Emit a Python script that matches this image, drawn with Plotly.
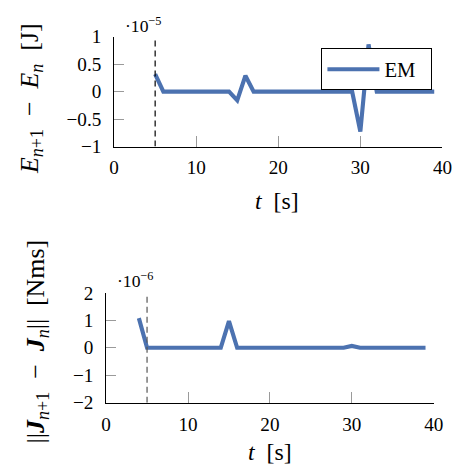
import plotly.graph_objects as go

# Time steps [s]
t_energy = list(range(5, 40))
t_momentum = list(range(4, 40))

# Energy increment E_{n+1} - E_n, in units of 1e-5 J
energy_diff = {5: 0.32, 15: -0.16, 16: 0.29, 30: -0.73, 31: 0.86}
dE = [energy_diff.get(t, 0.0) for t in t_energy]

# Angular momentum increment ||J_{n+1} - J_n||, in units of 1e-6 Nms
momentum_diff = {4: 1.08, 15: 0.97, 30: 0.07}
dJ = [momentum_diff.get(t, 0.0) for t in t_momentum]

t_marker = 5                     # vertical reference time
x_ticks = [0, 10, 20, 30, 40]
y_ticks_top = [-1, -0.5, 0, 0.5, 1]
y_ticks_bottom = [-2, -1, 0, 1, 2]

W, H = 454, 472
# page-to-canvas calibration (scale and offset of the rendered page)
S, OX, OY = 0.966, 5.0, 8.0


def fx(px):
    return (px - OX) / S / W


def fy(py):
    return 1 - (py - OY) / S / H


def fs(size):
    return size / S


blue = "#4C72B0"
serif = "Liberation Serif, DejaVu Serif, serif"

fig = go.Figure()

fig.add_trace(go.Scatter(x=t_energy, y=dE, mode="lines", name="EM\u2002",
                         line=dict(color=blue, width=fs(4)),
                         xaxis="x", yaxis="y"))
fig.add_trace(go.Scatter(x=[t_marker, t_marker], y=[y_ticks_top[0], y_ticks_top[-1]],
                         mode="lines", showlegend=False,
                         line=dict(color="black", width=1.2, dash="6px,4px"),
                         xaxis="x", yaxis="y"))
fig.add_trace(go.Scatter(x=t_momentum, y=dJ, mode="lines", showlegend=False,
                         line=dict(color=blue, width=fs(4)),
                         xaxis="x2", yaxis="y2"))
fig.add_trace(go.Scatter(x=[t_marker, t_marker], y=[y_ticks_bottom[0], y_ticks_bottom[-1]],
                         mode="lines", showlegend=False,
                         line=dict(color="#555555", width=1.2, dash="6px,4px"),
                         xaxis="x2", yaxis="y2"))

tickfont = dict(family=serif, size=fs(18.5), color="black")
axis_common = dict(showline=True, linecolor="black", linewidth=1, mirror=False,
                   showgrid=False, zeroline=False, ticks="inside", ticklen=fs(10),
                   tickcolor="#9a9a9a", tickwidth=1, tickfont=tickfont)

fig.update_layout(
    width=W, height=H,
    margin=dict(l=0, r=0, t=0, b=0),
    paper_bgcolor="white", plot_bgcolor="white",
    xaxis=dict(domain=[fx(114), fx(442)], range=[0, 40], tickvals=x_ticks,
               anchor="y", ticklabelstandoff=4, **axis_common),
    yaxis=dict(domain=[fy(146), fy(35)], range=[-1, 1], tickvals=y_ticks_top,
               anchor="x", ticklabelstandoff=8, **axis_common),
    xaxis2=dict(domain=[fx(106), fx(433.3)], range=[0, 40], tickvals=x_ticks,
                anchor="y2", ticklabelstandoff=4, **axis_common),
    yaxis2=dict(domain=[fy(405), fy(294)], range=[-2, 2], tickvals=y_ticks_bottom,
                anchor="x2", ticklabelstandoff=8, **axis_common),
    legend=dict(x=fx(432), y=fy(46.7), xanchor="right", yanchor="top",
                bgcolor="white", bordercolor="black", borderwidth=1, itemwidth=52,
                font=dict(family=serif, size=fs(20), color="black")),
    showlegend=True,
)

ytitle_font = dict(family=serif, size=fs(25), color="black")
xtitle_font = dict(family=serif, size=fs(23), color="black")
small_font = dict(family=serif, size=fs(17), color="black")
sp = "\u2002"
annotations = [
    dict(text=f"<i>E</i><sub><i>n</i>+1</sub>{sp}−{sp}<i>E</i><sub><i>n</i></sub>{sp}[J]",
         x=fx(31), y=fy(98), textangle=-90, font=ytitle_font),
    dict(text=f"||<b><i>J</i></b><sub><i>n</i>+1</sub>{sp}−{sp}<b><i>J</i></b><sub><i>n</i></sub>||{sp}[Nms]",
         x=fx(37), y=fy(344), textangle=-90, font=ytitle_font),
    dict(text=f"<i>t</i>{sp}[s]", x=fx(277), y=fy(201), font=xtitle_font),
    dict(text=f"<i>t</i>{sp}[s]", x=fx(269.5), y=fy(455), font=xtitle_font),
    dict(text="·10<sup>−5</sup>", x=fx(123), y=fy(23), xanchor="left", font=small_font),
    dict(text="·10<sup>−6</sup>", x=fx(115), y=fy(281), xanchor="left", font=small_font),
]
for a in annotations:
    a.setdefault("xanchor", "center")
    fig.add_annotation(xref="paper", yref="paper", showarrow=False, yanchor="middle", **a)

fig.write_html("out.html")
